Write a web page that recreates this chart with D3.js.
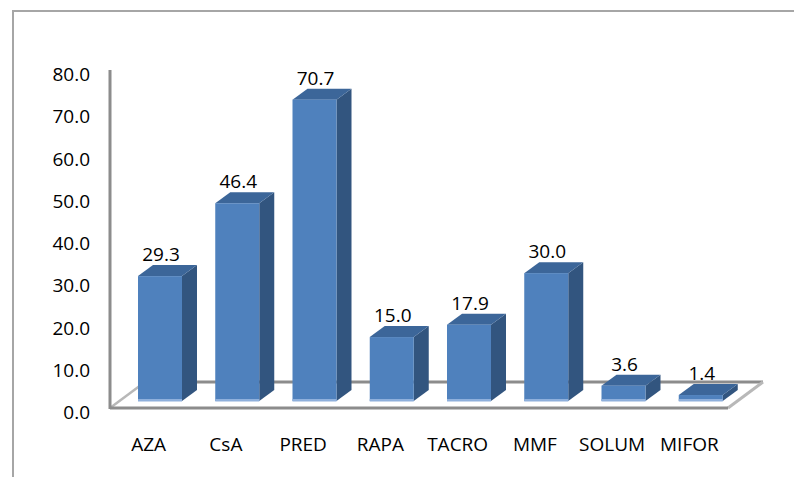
<!DOCTYPE html>
<html>
<head>
<meta charset="utf-8">
<script src="https://cdn.jsdelivr.net/npm/d3@7"></script>
<style>
  html, body { margin: 0; padding: 0; background: #fff; }
  svg { display: block; }
  text { font-family: "Open Sans", sans-serif; fill: #000; }
</style>
</head>
<body>
<div id="chart"></div>
<script>
const categories = ['AZA', 'CsA', 'PRED', 'RAPA', 'TACRO', 'MMF', 'SOLUM', 'MIFOR'];
const values = [29.3, 46.4, 70.7, 15.0, 17.9, 30.0, 3.6, 1.4];
const yTicks = [0, 10, 20, 30, 40, 50, 60, 70, 80];

const width = 794, height = 477;
const floor = { front: 408, back: 382, left: 110, right: 728, depthX: 35 };
const bar = { base: 401, offset: 28, width: 44, dx: 15, dy: 11 };
const fontSize = '19px';

const svg = d3.select('#chart').append('svg')
  .attr('width', width)
  .attr('height', height);

// chart frame (only the top and left edges are visible)
svg.append('path')
  .attr('d', `M13,${height} L13,11 L${width},11`)
  .attr('fill', 'none')
  .attr('stroke', '#a6a6a6')
  .attr('stroke-width', 2);

const x = d3.scaleBand().domain(categories).range([floor.left, floor.right]);
const y = d3.scaleLinear().domain([0, 80]).range([floor.front + 1, 71]);
const yBar = d3.scaleLinear().domain([0, 80]).range([bar.base, 60]);

// floor: back edge and the two side edges
svg.append('line')
  .attr('x1', floor.left + floor.depthX).attr('x2', floor.right + floor.depthX)
  .attr('y1', floor.back).attr('y2', floor.back)
  .attr('stroke', '#8c8c8c').attr('stroke-width', 3);

svg.append('line')
  .attr('x1', floor.left).attr('y1', floor.front)
  .attr('x2', floor.left + floor.depthX).attr('y2', floor.back)
  .attr('stroke', '#b8b8b8').attr('stroke-width', 2.5);

svg.append('line')
  .attr('x1', floor.right).attr('y1', floor.front)
  .attr('x2', floor.right + floor.depthX).attr('y2', floor.back)
  .attr('stroke', '#b8b8b8').attr('stroke-width', 3);

// bars
const g = svg.append('g');
categories.forEach((c, i) => {
  const v = values[i];
  const x0 = x(c) + bar.offset;
  const x1 = x0 + bar.width;
  const yt = yBar(v);
  const yb = bar.base;
  const { dx, dy } = bar;

  // side face
  g.append('path')
    .attr('d', `M${x1},${yt} L${x1 + dx},${yt - dy} L${x1 + dx},${yb - dy} L${x1},${yb} Z`)
    .attr('fill', '#32557f');

  // top face
  g.append('path')
    .attr('d', `M${x0},${yt} L${x1},${yt} L${x1 + dx},${yt - dy} L${x0 + dx},${yt - dy} Z`)
    .attr('fill', '#3c6699');

  // front face
  g.append('rect')
    .attr('x', x0)
    .attr('y', yt)
    .attr('width', bar.width)
    .attr('height', yb - yt)
    .attr('fill', '#4f81bd');

  // light bottom edge
  g.append('rect')
    .attr('x', x0)
    .attr('y', yb - 2)
    .attr('width', bar.width)
    .attr('height', 2.5)
    .attr('fill', '#8fb0dc');

  // value label
  g.append('text')
    .attr('x', x0 + bar.width / 2 + 1)
    .attr('y', yt - dy - 4)
    .attr('text-anchor', 'middle')
    .attr('font-size', fontSize)
    .text(d3.format('.1f')(v));
});

// floor front edge
svg.append('line')
  .attr('x1', floor.left).attr('x2', floor.right)
  .attr('y1', floor.front).attr('y2', floor.front)
  .attr('stroke', '#8c8c8c').attr('stroke-width', 3);

// vertical axis
svg.append('line')
  .attr('x1', floor.left).attr('x2', floor.left)
  .attr('y1', y(80) - 1).attr('y2', floor.front + 1)
  .attr('stroke', '#8c8c8c').attr('stroke-width', 3);

const yAxis = svg.append('g')
  .attr('transform', `translate(${floor.left},0)`)
  .call(d3.axisLeft(y).tickValues(yTicks).tickFormat(d3.format('.1f')).tickSize(0).tickPadding(20));
yAxis.select('.domain').remove();
yAxis.selectAll('text')
  .attr('font-size', fontSize)
  .attr('font-family', '"Open Sans", sans-serif')
  .attr('fill', '#000')
  .attr('dy', '0.5em');

const xAxis = svg.append('g')
  .attr('transform', `translate(0,${floor.front})`)
  .call(d3.axisBottom(x).tickSize(0).tickPadding(0));
xAxis.select('.domain').remove();
xAxis.selectAll('text')
  .attr('font-size', fontSize)
  .attr('font-family', '"Open Sans", sans-serif')
  .attr('fill', '#000')
  .attr('dy', 0)
  .attr('y', 43);
</script>
</body>
</html>
